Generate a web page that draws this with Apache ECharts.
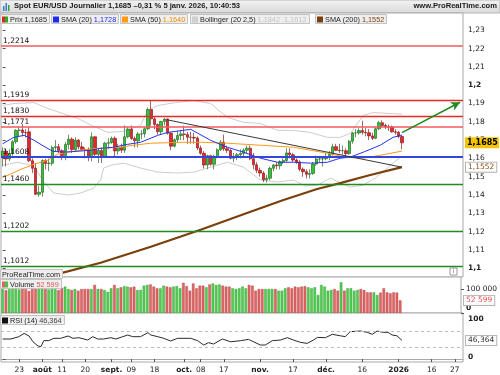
<!DOCTYPE html>
<html><head><meta charset="utf-8">
<script src="https://cdn.jsdelivr.net/npm/echarts@6.0.0/dist/echarts.min.js"></script>
<style>html,body{margin:0;padding:0;background:#fff;}#chart{width:500px;height:375px;}</style>
</head><body><div id="chart"></div>
<script>
// ---------- categories (trading days) ----------
const monthDays = [
  ['2025-07', [16,17,18,21,22,23,24,25,28,29,30,31]],
  ['2025-08', [1,4,5,6,7,8,11,12,13,14,15,18,19,20,21,22,25,26,27,28,29]],
  ['2025-09', [1,2,3,4,5,8,9,10,11,12,15,16,17,18,19,22,23,24,25,26,29,30]],
  ['2025-10', [1,2,3,6,7,8,9,10,13,14,15,16,17,20,21,22,23,24,27,28,29,30,31]],
  ['2025-11', [3,4,5,6,7,10,11,12,13,14,17,18,19,20,21,24,25,26,27,28]],
  ['2025-12', [1,2,3,4,5,8,9,10,11,12,15,16,17,18,19,22,23,24,26,29,30,31]],
  ['2026-01', [2,5,6,7,8,9,12,13,14,15,16,19,20,21,22,23,26,27,28,29]]
];
const dates = [];
monthDays.forEach(([m, ds]) => ds.forEach(d => dates.push(m + '-' + String(d).padStart(2, '0'))));

// ---------- x tick labels ----------
const xTickIndex = [5,12,18,25,33,39,46,55,60,67,78,88,98,109,120,130,137];
const xTickText  = ['23','août','11','20','sept.','09','18','oct.','08','17','nov.','17','déc.','16','2026','16','27'];
const xTickMajor = [0,1,0,0,1,0,0,1,0,0,1,0,1,0,1,0,0];

// ---------- OHLC ----------
const open = [1.1610,1.1640,1.1597,1.1627,1.1691,1.1753,1.1755,1.1741,1.1745,1.1587,1.1546,1.1404,1.1415,1.1588,1.1572,1.1574,1.1660,1.1664,1.1642,1.1616,
1.1676,1.1705,1.1648,1.1700,1.1663,1.1649,1.1648,1.1608,1.1718,1.1622,1.1643,1.1608,1.1683,1.1686,1.1710,1.1641,1.1660,1.1645,1.1718,1.1760,
1.1709,1.1696,1.1733,1.1734,1.1762,1.1867,1.1816,1.1785,1.1746,1.1802,1.1815,1.1737,1.1667,1.1702,1.1725,1.1734,1.1730,1.1716,1.1715,1.1711,
1.1657,1.1628,1.1564,1.1615,1.1568,1.1607,1.1647,1.1689,1.1653,1.1644,1.1601,1.1609,1.1620,1.1627,1.1645,1.1656,1.1598,1.1565,1.1535,1.1520,
1.1484,1.1492,1.1546,1.1564,1.1560,1.1582,1.1589,1.1630,1.1620,1.1591,1.1581,1.1541,1.1527,1.1513,1.1518,1.1569,1.1597,1.1597,1.1598,1.1610,
1.1622,1.1664,1.1644,1.1642,1.1642,1.1626,1.1694,1.1739,1.1739,1.1752,1.1743,1.1740,1.1723,1.1710,1.1762,1.1795,1.1780,1.1772,1.1771,1.1745,
1.1743,1.1720];
const close = [1.1640,1.1597,1.1627,1.1691,1.1753,1.1755,1.1741,1.1740,1.1587,1.1546,1.1404,1.1415,1.1588,1.1572,1.1574,1.1660,1.1664,1.1642,1.1616,1.1676,
1.1705,1.1648,1.1700,1.1663,1.1649,1.1648,1.1608,1.1718,1.1622,1.1643,1.1608,1.1683,1.1686,1.1710,1.1641,1.1660,1.1645,1.1718,1.1760,1.1709,
1.1696,1.1733,1.1734,1.1762,1.1867,1.1816,1.1785,1.1746,1.1802,1.1815,1.1737,1.1667,1.1702,1.1725,1.1734,1.1730,1.1716,1.1715,1.1711,1.1657,
1.1628,1.1564,1.1615,1.1568,1.1607,1.1647,1.1689,1.1653,1.1644,1.1601,1.1609,1.1620,1.1627,1.1645,1.1656,1.1598,1.1565,1.1535,1.1520,1.1484,
1.1492,1.1546,1.1564,1.1560,1.1582,1.1589,1.1630,1.1620,1.1591,1.1581,1.1541,1.1527,1.1513,1.1518,1.1569,1.1597,1.1597,1.1598,1.1610,1.1622,
1.1664,1.1644,1.1642,1.1642,1.1626,1.1694,1.1739,1.1739,1.1752,1.1743,1.1740,1.1723,1.1710,1.1762,1.1795,1.1780,1.1772,1.1771,1.1745,1.1743,
1.1720,1.1685];
const low = [1.1556,1.1556,1.1585,1.1615,1.1680,1.1720,1.1720,1.1715,1.1580,1.1520,1.1400,1.1390,1.1391,1.1540,1.1530,1.1560,1.1640,1.1630,1.1590,1.1590,
1.1650,1.1630,1.1640,1.1650,1.1640,1.1600,1.1585,1.1583,1.1610,1.1575,1.1575,1.1605,1.1650,1.1680,1.1610,1.1620,1.1630,1.1630,1.1710,1.1700,
1.1660,1.1660,1.1705,1.1715,1.1755,1.1780,1.1760,1.1730,1.1730,1.1780,1.1730,1.1645,1.1660,1.1690,1.1700,1.1700,1.1680,1.1680,1.1680,1.1645,
1.1620,1.1545,1.1540,1.1560,1.1540,1.1600,1.1640,1.1640,1.1630,1.1595,1.1580,1.1590,1.1600,1.1610,1.1625,1.1590,1.1540,1.1520,1.1500,1.1470,
1.1468,1.1480,1.1530,1.1540,1.1540,1.1570,1.1580,1.1600,1.1580,1.1570,1.1530,1.1500,1.1490,1.1490,1.1510,1.1560,1.1580,1.1555,1.1590,1.1590,
1.1615,1.1640,1.1630,1.1620,1.1615,1.1620,1.1680,1.1715,1.1730,1.1730,1.1720,1.1700,1.1700,1.1705,1.1755,1.1770,1.1760,1.1750,1.1740,1.1730,
1.1710,1.1650];
const high = [1.1660,1.1650,1.1650,1.1700,1.1760,1.1770,1.1788,1.1760,1.1770,1.1600,1.1575,1.1450,1.1595,1.1598,1.1600,1.1670,1.1700,1.1680,1.1650,1.1690,
1.1730,1.1715,1.1715,1.1705,1.1690,1.1660,1.1660,1.1742,1.1720,1.1655,1.1660,1.1690,1.1710,1.1720,1.1720,1.1680,1.1680,1.1780,1.1770,1.1780,
1.1720,1.1745,1.1755,1.1770,1.1878,1.1918,1.1830,1.1790,1.1805,1.1820,1.1818,1.1745,1.1710,1.1750,1.1755,1.1779,1.1745,1.1745,1.1740,1.1720,
1.1670,1.1640,1.1620,1.1620,1.1620,1.1655,1.1700,1.1730,1.1670,1.1650,1.1630,1.1630,1.1650,1.1655,1.1670,1.1670,1.1630,1.1580,1.1550,1.1530,
1.1510,1.1555,1.1570,1.1580,1.1590,1.1600,1.1655,1.1655,1.1630,1.1600,1.1590,1.1550,1.1540,1.1540,1.1580,1.1615,1.1610,1.1610,1.1630,1.1640,
1.1680,1.1680,1.1680,1.1670,1.1655,1.1700,1.1745,1.1760,1.1765,1.1805,1.1765,1.1760,1.1740,1.1770,1.1805,1.1808,1.1790,1.1785,1.1780,1.1760,
1.1750,1.1725];

// ---------- volume ----------
const volume = [105000,95000,100000,100000,105000,98000,110000,100000,92000,105000,110000,100000,120000,100000,98000,105000,100000,95000,105000,
110000,100000,96000,100000,93000,100000,100000,100000,100000,117000,100000,100000,96000,88000,103000,117000,103000,107000,112000,110000,107000,
110000,96000,96000,114000,117000,119000,110000,103000,103000,114000,110000,107000,110000,112000,103000,126000,112000,93000,123000,103000,
114000,114000,107000,119000,123000,117000,119000,114000,110000,110000,103000,100000,103000,110000,103000,117000,
114000,93000,100000,100000,100000,100000,100000,100000,93000,93000,103000,107000,103000,110000,107000,110000,112000,107000,103000,107000,
75000,117000,110000,93000,96000,100000,93000,128000,93000,103000,103000,93000,96000,100000,96000,86000,86000,86000,75000,85000,
103000,86000,82000,86000,85000,52599];

// ---------- indicators: [day index, value] ----------
const sma20 = [[0,1.1680],[3.4,1.1715],[6.5,1.1726],[9.5,1.1699],[12.5,1.1666],[15.2,1.1639],[18.5,1.1634],[22.8,1.1639],[26.7,1.1645],[29.7,1.1655],
[33.7,1.1661],[37.9,1.1677],[41.8,1.1688],[47,1.1726],[50,1.1742],[57,1.1759],[63,1.1699],[68.1,1.1661],[73,1.1634],[78.1,1.1601],[83.3,1.1579],
[88.1,1.1579],[93.2,1.1574],[98.4,1.1579],[102.3,1.1601],[105.3,1.1607],[109.3,1.1634],[114.4,1.1672],[118.3,1.1715],[121,1.1728]];
const sma50 = [[0,1.1495],[5.5,1.1540],[9.5,1.1568],[13.7,1.1590],[16.7,1.1623],[19.8,1.1634],[23.7,1.1645],[28.8,1.1655],[35.8,1.1661],[39.7,1.1672],
[44.9,1.1683],[54.8,1.1688],[60,1.1688],[68.1,1.1683],[78.1,1.1672],[88.1,1.1661],[93.2,1.1645],[98.4,1.1628],[103.8,1.1607],[109.3,1.1601],
[114.4,1.1617],[121,1.1640]];
const bbUpper = [[0,1.1889],[3.4,1.1900],[9.5,1.1905],[13.7,1.1873],[19.8,1.1835],[22.8,1.1818],[27.6,1.1775],[31.9,1.1742],[36.7,1.1748],[41.8,1.1780],
[44,1.1862],[47,1.1889],[52.4,1.1905],[57.9,1.1916],[63,1.1900],[68.1,1.1824],[73,1.1797],[78.1,1.1791],[83.3,1.1753],[88.1,1.1753],[93.2,1.1742],
[98.4,1.1715],[102.3,1.1715],[105.3,1.1737],[109.3,1.1835],[112.3,1.1851],[116.5,1.1846],[121,1.1842]];
const bbLower = [[0,1.1563],[4.6,1.1579],[9.5,1.1558],[12.5,1.1471],[15.5,1.1411],[19.8,1.1400],[23.7,1.1411],[27.6,1.1438],[29.7,1.1482],[30.6,1.1547],
[32.8,1.1563],[36.7,1.1574],[41.8,1.1547],[47,1.1525],[53,1.1520],[57.9,1.1525],[63,1.1552],[68.1,1.1579],[73,1.1552],[78.1,1.1482],[83.3,1.1471],
[88.1,1.1482],[91.7,1.1449],[95.4,1.1454],[99.3,1.1492],[105.3,1.1443],[109.3,1.1454],[112.9,1.1492],[118.3,1.1574],[121,1.1613]];
const sma200 = [[0,1.0889],[13.7,1.0954],[29.7,1.1030],[44.9,1.1117],[60,1.1210],[75.1,1.1308],[85.1,1.1373],[95.3,1.1433],[102.3,1.1465],[111.4,1.1509],[121,1.1552]];
const rsi = [[0,50],[2.5,50],[4.9,55.8],[6.5,64],[8,57.5],[9.2,43],[10.7,32.5],[11.6,31],[12.5,46],[14,46],[15.5,51.7],[17.6,51.7],[19.8,57.5],[21.3,51.7],
[23.1,53.3],[25.8,47.5],[27.3,55.8],[28.8,50],[30.6,50],[32.8,53.3],[34.3,50],[36.4,55.8],[37.9,60],[39.4,55.8],[41.8,55.8],[44,65.8],[44.9,60],[47,55.8],
[48.8,51.7],[50.9,45],[53,51.7],[57,51.7],[59.1,45.8],[60.9,35],[62.4,40.8],[63.9,37.5],[66.6,50],[69.1,43],[72.1,45.8],[74.5,49],[75.1,45.8],[78.1,35],
[79.6,35],[81.7,45.8],[84.2,47.5],[86.3,53.3],[88.1,47.5],[90.2,41.7],[92.3,39],[94.2,47.5],[95.4,54],[97.8,53.3],[99.9,61.7],[102.3,58],[103.8,56],
[105.3,68.3],[108.4,70],[110.5,66.7],[112,61.7],[113.5,70],[115.3,66.7],[116.8,66.7],[118,60],[119.5,58],[121,46.364]];

// ---------- drawn objects ----------
const levelValues = [1.2214, 1.1919, 1.1830, 1.1771, 1.1608, 1.1460, 1.1202, 1.1012];
const trendLine = [[49.8, 1.1811], [121, 1.1552]];
const arrowLine = [[121, 1.1741], [138.6, 1.1907]];
const priceTicks = [1.10,1.11,1.12,1.13,1.14,1.15,1.16,1.17,1.18,1.19,1.20,1.21,1.22,1.23];
const volumeTicks = [0, 100000];
const rsiTicks = [0, 100];
const rsiBands = [70, 30];
const last = {price:1.1685, change:-0.31, sma20:1.1728, sma50:1.1640, bbUp:1.1842, bbLow:1.1613, sma200:1.1552, volume:52599, rsi:46.364};

// ---------- helpers / styles ----------
const fmt = (v, d) => v.toFixed(d).replace('.', ',');
const FONT = 'DejaVu Sans';
const LFONT = 'Liberation Sans';
const levelStyle = ['#f25a5a','#e62a2a','#e62a2a','#f25a5a','#3446e0','#228c22','#228c22','#228c22'];
const levelWidth = [1.6,1.3,1.3,1.6,2,1.3,1.3,1.3];

const chart = echarts.init(document.getElementById('chart'));
const gridBase = {show:true, borderColor:'#a9a9a9', borderWidth:1, backgroundColor:'#fff', left:1, right:37};
const boxTitle = (text, left, top, rich) => ({
  text, left, top, padding:[1,3,0,2], backgroundColor:'#eeeeee', borderColor:'#c3c3c3', borderWidth:1,
  textStyle:{fontSize:7.3, fontFamily:LFONT, color:'#222', fontWeight:'normal', lineHeight:9, rich: Object.assign({
    t:{fontSize:7.3, fontFamily:LFONT, color:'#222'}}, rich)}
});
const sq = c => ({width:6, height:6, backgroundColor:c});
const vs = c => ({color:c, fontSize:7.3, fontFamily:LFONT});

const option = {
  animation:false,
  backgroundColor:'#fff',
  grid:[
    Object.assign({top:13, height:264}, gridBase),
    Object.assign({top:277, height:36}, gridBase),
    Object.assign({top:313, height:49}, gridBase)
  ],
  title:[
    {text:'Spot EUR/USD Journalier ' + fmt(last.price,4) + ' ' + fmt(last.change,2).replace('-', '–') + ' % 5 janv. 2026, 10:40:53',
     left:14, top:2, padding:0, textStyle:{fontSize:7.6, fontWeight:'bold', color:'#1a1a1a', fontFamily:LFONT}},
    {text:'www.ProRealTime.com', right:3, top:2, padding:0, textStyle:{fontSize:7.6, fontWeight:'bold', color:'#1a1a1a', fontFamily:LFONT}},
    boxTitle('{r|}{g|} {t|Prix} {t|' + fmt(last.price,4) + '}', 0, 14, {r:{width:3,height:6,backgroundColor:'#e02424'}, g:{width:3,height:6,backgroundColor:'#22b022'}}),
    boxTitle('{s|} {t|SMA (20)} {v|' + fmt(last.sma20,4) + '}', 51, 14, {s:sq('#1f2cf0'), v:vs('#1f2cf0')}),
    boxTitle('{s|} {t|SMA (50)} {v|' + fmt(last.sma50,4) + '}', 120, 14, {s:sq('#ff9a10'), v:vs('#f08c00')}),
    boxTitle('{s|} {t|Bollinger (20 2,5)} {v|' + fmt(last.bbUp,4) + '  ' + fmt(last.bbLow,4) + '}', 190, 14, {s:sq('#cfcfcf'), v:vs('#c4c4c4')}),
    boxTitle('{s|} {t|SMA (200)} {v|' + fmt(last.sma200,4) + '}', 315, 14, {s:sq('#7b3f0c'), v:vs('#7b3f0c')}),
    boxTitle('{r|}{g|} {t|Volume} {v|52 599}', 0, 279, {r:{width:3,height:6,backgroundColor:'#e06262'}, g:{width:3,height:6,backgroundColor:'#44c844'}, v:vs('#e05a5a')}),
    boxTitle('{s|} {t|RSI (14)} {v|' + fmt(last.rsi,3) + '}', 0, 315, {s:sq('#111'), v:vs('#444')}),
    boxTitle('{t|ProRealTime.com}', 0, 269, {})
  ],
  graphic:[
    {type:'rect', z:-1, shape:{x:0,y:0,width:500,height:13}, style:{fill:new echarts.graphic.LinearGradient(0,0,0,1,[{offset:0,color:'#f3f3f3'},{offset:1,color:'#d9d9d9'}]), stroke:'#b5b5b5', lineWidth:1}},
    {type:'rect', shape:{x:3,y:6,width:1.5,height:5}, style:{fill:'#3a7ad8'}},
    {type:'rect', shape:{x:5.5,y:3,width:1.5,height:8}, style:{fill:'#3a7ad8'}},
    {type:'rect', shape:{x:8,y:5,width:1.5,height:6}, style:{fill:'#2fa62f'}},
    {type:'rect', shape:{x:450,y:268,width:7,height:7}, style:{fill:'#fff', stroke:'#999', lineWidth:1}},
    {type:'text', x:453.5, y:271.5, style:{text:'i', fill:'#666', fontSize:6, fontFamily:FONT, align:'center', verticalAlign:'middle'}}
  ],
  xAxis:[
    {type:'category', gridIndex:0, data:dates, boundaryGap:true, axisLine:{show:false}, axisTick:{show:false}, axisLabel:{show:false}, splitLine:{show:false}},
    {type:'value', gridIndex:0, min:-0.5, max:139.5, show:false},
    {type:'category', gridIndex:1, data:dates, boundaryGap:true, show:false},
    {type:'category', gridIndex:2, data:dates, boundaryGap:true,
      axisLine:{show:true, lineStyle:{color:'#a9a9a9'}},
      axisTick:{show:true, alignWithLabel:true, length:3, interval:(i)=>xTickIndex.includes(i), lineStyle:{color:'#555'}},
      axisLabel:{interval:(i)=>xTickIndex.includes(i), margin:4, fontSize:7.5, fontFamily:FONT, color:'#222',
        formatter:(v,i)=>{const k=xTickIndex.indexOf(i); if(k<0) return ''; return xTickMajor[k] ? '{b|'+xTickText[k]+'}' : xTickText[k];},
        rich:{b:{fontWeight:'bold', fontSize:7.5, fontFamily:FONT, color:'#222'}}},
      splitLine:{show:false}},
    {type:'value', gridIndex:2, min:-0.5, max:139.5, show:false}
  ],
  yAxis:[
    {type:'value', gridIndex:0, position:'right', min:1.095191, max:1.239454, scale:true,
      axisLine:{show:false}, splitLine:{show:false},
      axisTick:{show:true, length:3, customValues:priceTicks, lineStyle:{color:'#555'}},
      axisLabel:{customValues:priceTicks, margin:5, fontSize:7.5, fontFamily:FONT, color:'#222',
        formatter:(v)=>{const s=String(parseFloat(v.toFixed(2))).replace('.', ','); return (Math.abs(v*10-Math.round(v*10))<1e-6) ? '{b|'+s+'}' : s;},
        rich:{b:{fontWeight:'bold', fontSize:7.5, fontFamily:FONT, color:'#222'}}}},
    {type:'value', gridIndex:1, position:'right', min:0, max:150000,
      axisLine:{show:false}, splitLine:{show:false},
      axisTick:{show:true, length:3, customValues:volumeTicks, lineStyle:{color:'#555'}},
      axisLabel:{customValues:volumeTicks, margin:5, fontSize:7.5, fontFamily:FONT, color:'#222',
        formatter:(v)=> v===0 ? '{z|0}' : '100 000',
        rich:{z:{fontWeight:'bold', fontSize:7.5, fontFamily:FONT, color:'#222', padding:[0,0,9,0]}}}},
    {type:'value', gridIndex:2, position:'right', min:-7.5, max:115,
      axisLine:{show:false}, splitLine:{show:false},
      axisTick:{show:true, length:3, customValues:rsiTicks, lineStyle:{color:'#555'}},
      axisLabel:{customValues:rsiTicks, margin:5, fontSize:7.5, fontFamily:FONT, color:'#222',
        formatter:(v)=> v===0 ? '{z|0}' : '{b|'+v+'}',
        rich:{b:{fontWeight:'bold', fontSize:7.5, fontFamily:FONT, color:'#222'}, z:{fontWeight:'bold', fontSize:7.5, fontFamily:FONT, color:'#222', padding:[0,0,4,0]}}}}
  ],
  series:[
    {name:'BB up', type:'line', xAxisIndex:1, yAxisIndex:0, z:1, data:bbUpper, symbol:'none', silent:true,
      lineStyle:{color:'#cdcdcd', width:1},
      markLine:{silent:true, symbol:'none', animation:false, precision:6,
        data: levelValues.map((v,i)=>({yAxis:v, lineStyle:{color:levelStyle[i], width:levelWidth[i], type:'solid'},
          label:{show:true, position:'insideStartTop', formatter:fmt(v,4), color:'#111', fontSize:7.5, fontFamily:FONT, distance:[2,1]}}))}},
    {name:'BB low', type:'line', xAxisIndex:1, yAxisIndex:0, z:1, data:bbLower, symbol:'none', silent:true, lineStyle:{color:'#cdcdcd', width:1}},
    {name:'SMA200', type:'line', xAxisIndex:1, yAxisIndex:0, z:2, data:sma200, symbol:'none', silent:true, lineStyle:{color:'#7b3f0c', width:2.2},
      markLine:{silent:true, symbol:'none', animation:false, precision:6, lineStyle:{color:'rgba(0,0,0,0)'},
        data:[{yAxis:last.sma200, label:{show:true, position:'end', distance:3, formatter:fmt(last.sma200,4), color:'#8b4a14', fontSize:7.5, fontFamily:FONT,
          backgroundColor:'#fff', borderColor:'#b5b5b5', borderWidth:1, padding:[1,2,0,2]}}]}},
    {name:'Prix', type:'candlestick', xAxisIndex:0, yAxisIndex:0, z:3, barWidth:2.8,
      data: open.map((o,i)=>[o, close[i], low[i], high[i]]),
      itemStyle:{color:'#33c433', color0:'#e5262b', borderColor:'#2a6a2a', borderColor0:'#8c1f1f', borderWidth:0.7},
      markLine:{silent:true, symbol:'none', animation:false, precision:6, lineStyle:{color:'rgba(0,0,0,0)'},
        data:[{yAxis:last.price, label:{show:true, position:'end', distance:2, formatter:fmt(last.price,4), color:'#000', fontWeight:'bold', fontSize:8, fontFamily:FONT,
          backgroundColor:'#f6c400', padding:[2,1,1,2]}}]}},
    {name:'SMA50', type:'line', xAxisIndex:1, yAxisIndex:0, z:4, data:sma50, symbol:'none', silent:true, lineStyle:{color:'#ff9a1a', width:1}},
    {name:'SMA20', type:'line', xAxisIndex:1, yAxisIndex:0, z:4, data:sma20, symbol:'none', silent:true, lineStyle:{color:'#2433f0', width:1},
      markLine:{silent:true, animation:false, precision:6, label:{show:false},
        data:[
          [{coord:trendLine[0], symbol:'none', lineStyle:{color:'#3a3a3a', width:1, type:'solid'}}, {coord:trendLine[1], symbol:'none'}],
          [{coord:arrowLine[0], symbol:'none', lineStyle:{color:'#1e8c1e', width:1.5, type:'solid'}}, {coord:arrowLine[1], symbol:'arrow', symbolSize:[7,9]}]
        ]}},
    {name:'Volume', type:'bar', xAxisIndex:2, yAxisIndex:1, barWidth:2.6, silent:true,
      data: volume.map((v,i)=>({value:v, itemStyle:{color: close[i]>=open[i] ? '#4fce4f' : '#e26464', borderColor: close[i]>=open[i] ? '#3a9a3a' : '#b04545', borderWidth:0.4}})),
      markLine:{silent:true, symbol:'none', animation:false, precision:6, lineStyle:{color:'rgba(0,0,0,0)'},
        data:[{yAxis:last.volume, label:{show:true, position:'end', distance:3, formatter:'52 599', color:'#e05050', fontSize:7.5, fontFamily:FONT,
          backgroundColor:'#fff', borderColor:'#b5b5b5', borderWidth:1, padding:[1,2,0,2]}}]}},
    {name:'RSI', type:'line', xAxisIndex:4, yAxisIndex:2, data:rsi, symbol:'none', silent:true, lineStyle:{color:'#2a2a2a', width:1},
      markLine:{silent:true, symbol:'none', animation:false, precision:6,
        data: rsiBands.map(v=>({yAxis:v, lineStyle:{color:'#bdbdbd', width:1, type:[3,3]}, label:{show:false}})).concat([
          {yAxis:last.rsi, lineStyle:{color:'rgba(0,0,0,0)'}, label:{show:true, position:'end', distance:3, formatter:fmt(last.rsi,3), color:'#333', fontSize:7.5, fontFamily:FONT,
            backgroundColor:'#fff', borderColor:'#b5b5b5', borderWidth:1, padding:[1,2,0,2]}}])}}
  ]
};
chart.setOption(option);
</script></body></html>
